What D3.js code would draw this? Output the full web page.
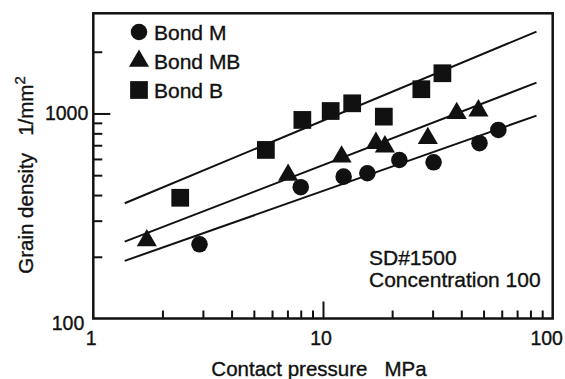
<!DOCTYPE html>
<html lang="en">
<head>
<meta charset="UTF-8">
<title>Grain density vs contact pressure</title>
<script src="https://cdn.jsdelivr.net/npm/d3@7"></script>
<style>
  body { margin: 0; background: #fff; }
  text { font-family: "Liberation Sans", Arial, sans-serif; fill: #111; stroke: #111; stroke-width: 0.35px; }
  .frame { fill: none; stroke: #111; stroke-width: 2.5; }
  .tick line { stroke: #111; stroke-width: 2; }
  .fit { stroke: #111; stroke-width: 2; fill: none; }
</style>
</head>
<body>
<svg id="chart" width="565" height="379"></svg>
<script>
// data
var seriesNames = ["Bond M", "Bond MB", "Bond B"];

var pressureM = [2.9, 8.0, 12.3, 15.6, 21.5, 30.3, 48, 58];
var densityM  = [230, 437, 492, 511, 593, 578, 716, 831];

var pressureMB = [1.71, 7.05, 12.05, 17.0, 18.6, 28.6, 38.2, 47.5];
var densityMB  = [240, 501, 615, 716, 689, 757, 1002, 1032];

var pressureB = [2.39, 5.64, 8.13, 10.8, 13.4, 18.4, 26.8, 33.1];
var densityB  = [388, 664, 930, 1028, 1121, 965, 1313, 1571];

// fitted lines (end points)
var fitX  = [1.37, 85];
var fitM  = [191, 976];
var fitMB = [237, 1414];
var fitB  = [365, 2507];

var xMinor = [2, 3, 4, 5, 6, 7, 8, 9, 20, 30, 40, 50, 60, 70, 80, 90];
var xMajor = [10];
var xLabels = [1, 10, 100];
var yMinor = [200, 300, 400, 500, 600, 700, 800, 900, 2000];
var yMajor = [1000];
var yLabels = [100, 1000];

var margin = {left: 93.3, top: 13.3, right: 12.3, bottom: 60.5},
    width = 565, height = 379;

var svg = d3.select("#chart");

var x = d3.scaleLog().domain([1, 100]).range([margin.left, width - margin.right]);
var y = d3.scaleLog().domain([100, 3080]).range([height - margin.bottom, margin.top]);

var x0 = margin.left, x1 = width - margin.right,
    y0 = height - margin.bottom, y1 = margin.top;

// ticks pointing inward
var xAxisMinor = d3.axisTop(x).tickValues(xMinor).tickSize(8).tickFormat("");
var xAxisMajor = d3.axisTop(x).tickValues(xMajor).tickSize(17).tickFormat("");
var yAxisMinor = d3.axisRight(y).tickValues(yMinor).tickSize(9).tickFormat("");
var yAxisMajor = d3.axisRight(y).tickValues(yMajor).tickSize(17).tickFormat("");

[xAxisMinor, xAxisMajor].forEach(function(ax){
  svg.append("g").attr("transform", "translate(0," + y0 + ")").call(ax)
    .call(function(g){ g.select(".domain").remove(); });
});
[yAxisMinor, yAxisMajor].forEach(function(ax){
  svg.append("g").attr("transform", "translate(" + x0 + ",0)").call(ax)
    .call(function(g){ g.select(".domain").remove(); });
});

svg.append("rect").attr("class", "frame")
  .attr("x", x0).attr("y", y1)
  .attr("width", x1 - x0).attr("height", y0 - y1);

// tick labels
svg.selectAll("text.xl").data(xLabels).enter().append("text")
  .attr("class", "xl")
  .attr("x", function(d){ return d == 100 ? x(d) - 6 : x(d) - 2; })
  .attr("y", 345)
  .attr("text-anchor", "middle")
  .style("font-size", "19.5px")
  .text(function(d){ return d; });

svg.selectAll("text.yl").data(yLabels).enter().append("text")
  .attr("class", "yl")
  .attr("x", function(d){ return d == 100 ? x0 - 9 : x0 - 5; })
  .attr("y", function(d){ return d == 100 ? y(d) + 11 : y(d) + 7; })
  .attr("text-anchor", "end")
  .style("font-size", "19.5px")
  .text(function(d){ return d; });

// axis titles
svg.append("text")
  .attr("x", 319).attr("y", 376)
  .attr("text-anchor", "middle")
  .style("font-size", "20.5px")
  .attr("xml:space", "preserve")
  .text("Contact pressure   MPa");

var yt = svg.append("text")
  .attr("transform", "translate(33,175) rotate(-90)")
  .attr("text-anchor", "middle")
  .style("font-size", "20.5px")
  .attr("xml:space", "preserve");
yt.append("tspan").text("Grain density   1/mm");
yt.append("tspan").attr("dy", -8).style("font-size", "15px").text("2");

// fitted lines
var line = d3.line().x(function(d){ return x(d[0]); }).y(function(d){ return y(d[1]); });
[fitM, fitMB, fitB].forEach(function(f){
  svg.append("path").attr("class", "fit")
    .attr("d", line(d3.zip(fitX, f)));
});

// markers
var symCircle = d3.symbol().type(d3.symbolCircle).size(215);
var symTri = d3.symbol().type(d3.symbolTriangle).size(175);
var symSquare = d3.symbol().type(d3.symbolSquare).size(315);

function drawSeries(xs, ys, sym) {
  svg.append("g").selectAll("path").data(d3.zip(xs, ys)).enter().append("path")
    .attr("d", sym)
    .attr("fill", "#111")
    .attr("transform", function(d){ return "translate(" + x(d[0]) + "," + y(d[1]) + ")"; });
}
drawSeries(pressureM, densityM, symCircle);
drawSeries(pressureMB, densityMB, symTri);
drawSeries(pressureB, densityB, symSquare);

// legend
var legendSyms = [symCircle, symTri, symSquare];
var legend = svg.append("g");
seriesNames.forEach(function(name, i){
  var ly = 32 + i * 29;
  legend.append("path").attr("d", legendSyms[i]).attr("fill", "#111")
    .attr("transform", "translate(139," + ly + ")");
  legend.append("text").attr("x", 154).attr("y", ly + 7.5)
    .style("font-size", "21px").text(name);
});

// annotation
svg.append("text").attr("x", 369).attr("y", 265).style("font-size", "21px").text("SD#1500");
svg.append("text").attr("x", 369).attr("y", 287).style("font-size", "21px").text("Concentration 100");
</script>
</body>
</html>
